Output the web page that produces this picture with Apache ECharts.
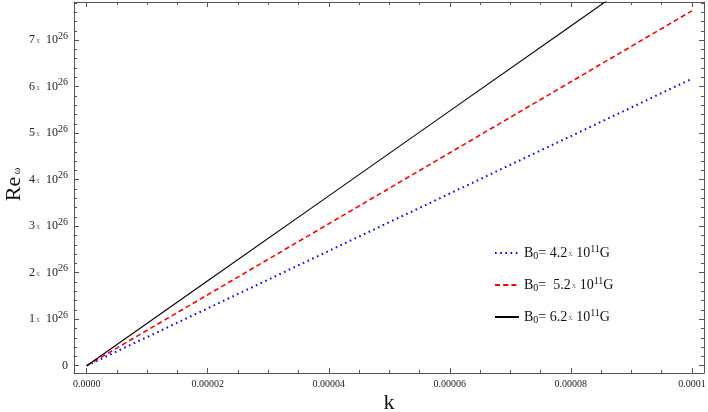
<!DOCTYPE html>
<html>
<head>
<meta charset="utf-8">
<script src="https://cdn.jsdelivr.net/npm/echarts@6/dist/echarts.min.js"></script>
<style>html,body{margin:0;padding:0;background:#fff}#c{width:708px;height:412px}</style>
</head>
<body>
<div id="c"></div>
<script>
// ---- data ----
const kValues = [0, 0.00002, 0.00004, 0.00006, 0.00008, 0.0001];
const seriesNames = ['B0= 4.2x 10^11G', 'B0= 5.2x 10^11G', 'B0= 6.2x 10^11G'];
const fieldLabels = ['4.2', ' 5.2', '6.2'];
const reOmegaB42 = [0, 1.234e26, 2.468e26, 3.702e26, 4.936e26, 6.17e26];
const reOmegaB52 = [0, 1.526e26, 3.052e26, 4.578e26, 6.104e26, 7.63e26];
const reOmegaB62 = [0, 1.826e26, 3.652e26, 5.478e26, 7.304e26, 9.13e26];
const xTicks = [0, 0.00002, 0.00004, 0.00006, 0.00008, 0.0001];
const xTickLabels = ['0.0000', '0.00002', '0.00004', '0.00006', '0.00008', '0.0001'];
const yTicks = [0, 1e26, 2e26, 3e26, 4e26, 5e26, 6e26, 7e26];
const yMantissa = ['0', '1', '2', '3', '4', '5', '6', '7'];

// ---- layout helpers ----
const xMin = -0.0000021, xMax = 0.000102;
const yMin = -0.157e26, yMax = 7.82e26;
function minors(ticks, n, lo, hi) {
  const out = [];
  const d = ticks[1] - ticks[0];
  const step = d / n;
  for (let t = ticks[0] - d; t <= ticks[ticks.length-1] + d; t += d) {
    for (let i = 1; i < n; i++) {
      const v = t + i * step;
      if (v > lo && v < hi) out.push(v);
    }
  }
  return out;
}
const xMinor = minors(xTicks, 4, xMin, xMax);
const yMinor = minors(yTicks, 5, yMin, yMax);

const serif = '"Liberation Serif", "DejaVu Serif", serif';
const axisColor = '#555';

function xAxisDef(pos, values, len, showLine, showLabel) {
  return {
    type: 'value', position: pos, min: xMin, max: xMax, gridIndex: 0,
    axisLine: { show: showLine, onZero: false, lineStyle: { color: axisColor, width: 1 } },
    axisTick: { show: true, inside: true, length: len, customValues: values, lineStyle: { color: axisColor } },
    axisLabel: showLabel ? {
      show: true, customValues: xTicks, margin: 6, fontFamily: serif, fontSize: 10, color: '#222',
      formatter: v => { const i = xTicks.findIndex(t => Math.abs(t - v) < 1e-9); return i >= 0 ? xTickLabels[i] : ''; }
    } : { show: false },
    splitLine: { show: false }
  };
}
function yAxisDef(pos, values, len, showLine, showLabel) {
  return {
    type: 'value', position: pos, min: yMin, max: yMax, gridIndex: 0,
    axisLine: { show: showLine, onZero: false, lineStyle: { color: axisColor, width: 1 } },
    axisTick: { show: true, inside: true, length: len, customValues: values, lineStyle: { color: axisColor } },
    axisLabel: showLabel ? {
      show: true, customValues: yTicks, margin: 6, fontFamily: serif, fontSize: 12, color: '#222',
      formatter: v => {
        const i = yTicks.findIndex(t => Math.abs(t - v) < 1e20);
        if (i < 0) return '';
        if (i === 0) return '{n|0}';
        return '{n|' + yMantissa[i] + '}{x|x}{n|  10}{p|26}';
      },
      rich: {
        n: { fontFamily: serif, fontSize: 12, color: '#222' },
        x: { fontFamily: serif, fontSize: 8, color: '#777', padding: [2, 0, 0, 1] },
        p: { fontFamily: serif, fontSize: 10, color: '#222', padding: [0, 0, 8, 0] }
      }
    } : { show: false },
    splitLine: { show: false }
  };
}

const chart = echarts.init(document.getElementById('c'), null, { renderer: 'canvas' });
const seriesColors = ['#0000ff', '#ff0000', '#000000'];
const seriesDash = [[1.6, 3.6], [5, 3.2], 'solid'];
const seriesWidth = [2, 1.6, 1.1];
const seriesData = [reOmegaB42, reOmegaB52, reOmegaB62];

chart.setOption({
  animation: false,
  grid: { left: 74, right: 4, top: 2, bottom: 39, containLabel: false, outerBoundsMode: 'none' },
  xAxis: [
    Object.assign(xAxisDef('bottom', xTicks, 5, true, true), {
      name: 'k', nameLocation: 'middle', nameGap: 19, nameMoveOverlap: false,
      nameTextStyle: { fontFamily: serif, fontSize: 22, color: '#111' }
    }),
    xAxisDef('bottom', xMinor, 3, false, false),
    xAxisDef('top', xTicks, 5, true, false),
    xAxisDef('top', xMinor, 3, false, false)
  ],
  yAxis: [
    Object.assign(yAxisDef('left', yTicks, 5, true, true), {
      name: '{r|Re}{w| ω}', nameLocation: 'middle', nameGap: 49, nameRotate: 90, nameMoveOverlap: false,
      nameTextStyle: {
        padding: [0, 0, 0, 6],
        rich: {
          r: { fontFamily: serif, fontSize: 22, color: '#111' },
          w: { fontFamily: serif, fontSize: 10, color: '#111', padding: [6, 0, 0, 0] }
        }
      }
    }),
    yAxisDef('left', yMinor, 3, false, false),
    yAxisDef('right', yTicks, 5, true, false),
    yAxisDef('right', yMinor, 3, false, false)
  ],
  legend: {
    orient: 'vertical', left: 489, top: 239, itemWidth: 24, itemHeight: 14, itemGap: 15,
    data: seriesNames,
    itemStyle: { opacity: 0 },
    formatter: name => {
      const i = seriesNames.indexOf(name);
      return '{a|B}{s|0}{a|= ' + fieldLabels[i] + '}{x|x}{a| 10}{p|11}{a|G}';
    },
    textStyle: {
      rich: {
        a: { fontFamily: serif, fontSize: 14, color: '#111' },
        s: { fontFamily: serif, fontSize: 10, color: '#111', padding: [6, 0, 0, 0] },
        x: { fontFamily: serif, fontSize: 9, color: '#777', padding: [2, 0, 0, 1] },
        p: { fontFamily: serif, fontSize: 10, color: '#111', padding: [0, 0, 8, 0] }
      }
    }
  },
  series: seriesNames.map((n, i) => ({
    name: n, type: 'line', xAxisIndex: 0, yAxisIndex: 0,
    data: kValues.map((k, j) => [k, seriesData[i][j]]),
    showSymbol: false, symbol: 'none', clip: true,
    lineStyle: { color: seriesColors[i], width: seriesWidth[i], type: seriesDash[i] },
    itemStyle: { color: seriesColors[i] }
  }))
});
</script>
</body>
</html>
